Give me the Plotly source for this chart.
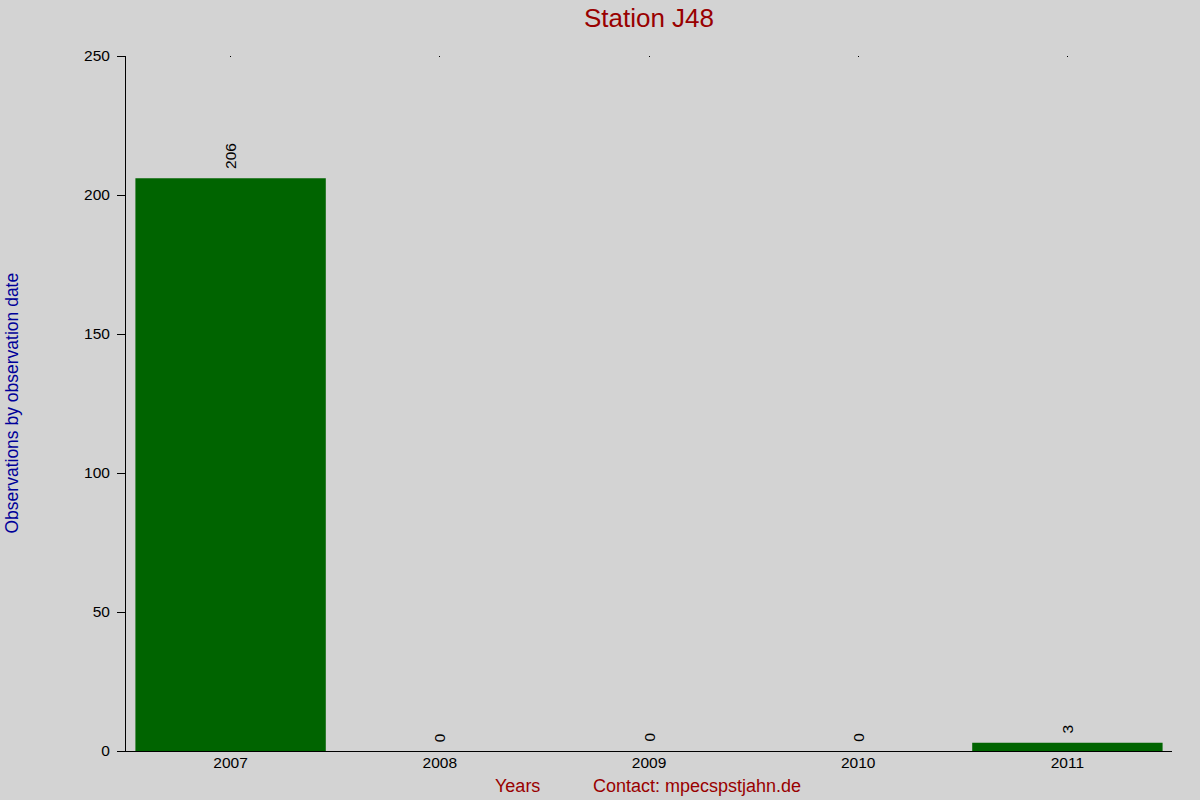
import plotly.graph_objects as go

# Daten
years = ['2007', '2008', '2009', '2010', '2011']
observations = [206, 0, 0, 0, 3]

bg = '#d3d3d3'
font = 'Liberation Sans, Arial, sans-serif'

fig = go.Figure()
fig.add_trace(go.Bar(
    x=years, y=observations,
    marker=dict(color='#006400', line=dict(width=0)),
))

# kleine Ticks oben
fig.add_trace(go.Scatter(x=years, y=[None] * len(years), xaxis='x2', showlegend=False, hoverinfo='skip'))

# Werte ueber den Balken (Kategorie-Index als x, sonst wird '2007' als Zahl gelesen)
labels = [dict(x=i, y=v, text=str(v), textangle=-90, showarrow=False,
               xanchor='center', yanchor='bottom', yshift=7,
               font=dict(family=font, size=15.5, color='black'))
          for i, v in enumerate(observations)]

fig.update_layout(
    width=1200, height=800,
    paper_bgcolor=bg, plot_bgcolor=bg,
    margin=dict(l=126, r=28, t=56, b=49),
    showlegend=False,
    bargap=0.09,
    font=dict(family=font, size=15.5, color='black'),
    title=dict(text='Station J48', x=649 / 1200, xref='container', xanchor='center',
               y=1 - 18 / 800, yref='container', yanchor='middle',
               font=dict(family=font, size=26, color='#990000')),
    xaxis=dict(type='category', range=[-0.5, 4.5], showgrid=False, zeroline=False,
               showline=True, linecolor='black', linewidth=1, ticks='', ticklabelstandoff=-3,
               tickfont=dict(size=15.5, color='black')),
    xaxis2=dict(type='category', range=[-0.5, 4.5], overlaying='x', side='top',
                showgrid=False, zeroline=False, showline=False, ticks='inside', ticklen=1,
                tickcolor='black', showticklabels=False),
    yaxis=dict(range=[0, 250], tickvals=[0, 50, 100, 150, 200, 250], showgrid=False,
               zeroline=False, showline=True, linecolor='black', linewidth=1,
               ticks='outside', ticklen=8, tickcolor='black', ticklabelstandoff=4,
               tickfont=dict(size=15.5, color='black')),
    annotations=labels + [
        dict(text='Observations by observation date', xref='paper', yref='paper',
             x=(11 - 126) / 1046, y=0.5, xanchor='center', yanchor='middle', textangle=-90,
             showarrow=False, font=dict(family=font, size=17.5, color='#000099')),
        dict(text='Years', xref='paper', yref='paper', x=(517 - 126) / 1046,
             y=(751 - 786) / 695, xanchor='center', yanchor='middle', showarrow=False,
             font=dict(family=font, size=18, color='#990000')),
        dict(text='Contact: mpecspstjahn.de', xref='paper', yref='paper', x=(697 - 126) / 1046,
             y=(751 - 786) / 695, xanchor='center', yanchor='middle', showarrow=False,
             font=dict(family=font, size=18, color='#990000')),
    ],
)

fig.write_html('out.html', config={'displayModeBar': False},
               post_script="document.body.style.margin='0';document.body.style.overflow='hidden';")
